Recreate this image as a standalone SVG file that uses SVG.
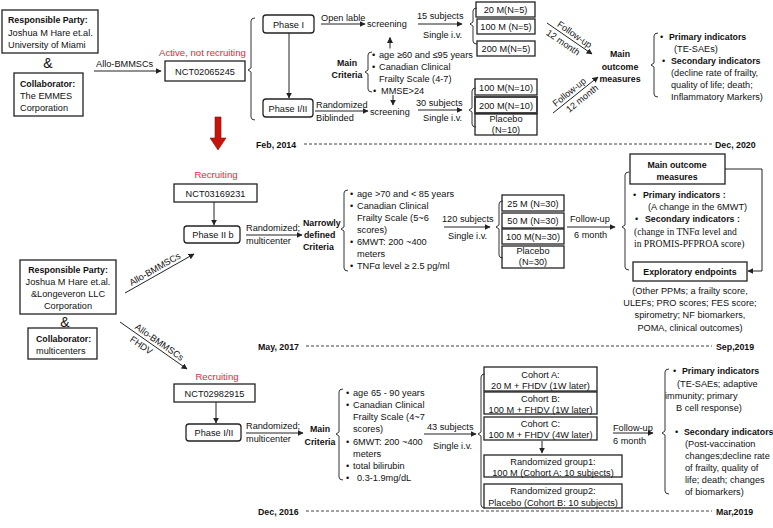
<svg xmlns="http://www.w3.org/2000/svg" width="773" height="528" viewBox="0 0 773 528">
<defs>
<marker id="ah" viewBox="0 0 10 10" refX="9" refY="5" markerWidth="6" markerHeight="6" markerUnits="userSpaceOnUse" orient="auto"><path d="M0,0 L10,5 L0,10 Z" fill="#222"/></marker>
<style>
text{font-family:"Liberation Sans",Arial,sans-serif;font-size:9.2px;fill:#111}
.b{font-weight:bold;font-size:8.8px}
.c{text-anchor:middle}
.r{fill:#e0283f;font-size:9.6px}
.s{font-family:"Liberation Serif","Times New Roman",serif;font-size:9.6px}
.amp{font-size:14px}
.box{fill:#fff;stroke:#222;stroke-width:1.3}
.ln{stroke:#222;stroke-width:1;fill:none}
.ar{stroke:#222;stroke-width:1;fill:none;marker-end:url(#ah)}
.br{stroke:#333;stroke-width:1;fill:none}
.dash{stroke:#444;stroke-width:1;stroke-dasharray:3 2}
</style>
</defs>
<rect width="773" height="528" fill="#fff"/>

<!-- ===== Section 1 ===== -->
<g id="resp1"><rect class="box" x="2" y="10" width="96" height="43"/>
<text class="b" x="8" y="23">Responsible Party:</text>
<text x="8" y="35.5">Joshua M Hare et.al.</text>
<text x="8" y="47.5">University of Miami</text></g>
<g id="amp1"><text class="amp c" x="48" y="68">&amp;</text></g>
<g id="collab1"><rect class="box" x="14" y="73" width="69" height="43"/>
<text class="b" x="20" y="86.5">Collaborator:</text>
<text x="20" y="98.5">The EMMES</text>
<text x="20" y="110.5">Corporation</text></g>
<g id="status1"><text class="r" x="159" y="55.5">Active, not recruiting</text></g>
<g id="nct1"><rect class="box" x="165" y="61" width="80" height="20"/>
<text class="c" x="205" y="74.5">NCT02065245</text></g>
<g id="phase1"><rect class="box" x="263" y="15" width="51" height="18" rx="3"/>
<text class="c" x="288.5" y="27.5">Phase I</text></g>
<g id="phase12a"><rect class="box" x="263" y="99" width="50" height="18" rx="3"/>
<text class="c" x="288" y="111.5">Phase I/II</text></g>
<g id="scr1"><text x="367" y="27">screening</text></g>
<g id="scr2"><text x="370" y="115">screening</text></g>
<g id="crit1">
<text class="b c" x="347" y="66">Main</text>
<text class="b c" x="347" y="78">Criteria</text>
<text x="372" y="57.5">•</text><text x="379" y="57.5">age ≥60 and ≤95 years</text>
<text x="372" y="70">•</text><text x="379" y="70">Canadian Clinical</text>
<text x="379" y="82">Frailty Scale (4-7)</text>
<text x="373" y="93.5">•</text><text x="381" y="93.5">MMSE&gt;24</text>
</g>
<g id="doses1">
<rect class="box" x="476" y="2" width="59" height="15"/><text class="c" x="505.5" y="12.8">20 M(N=5)</text>
<rect class="box" x="477" y="19" width="58" height="15"/><text class="c" x="506" y="30">100 M (N=5)</text>
<rect class="box" x="477" y="41" width="58" height="15"/><text class="c" x="506" y="51.8">200 M(N=5)</text>
</g>
<g id="doses2">
<rect class="box" x="475" y="79" width="62" height="16"/><text class="c" x="506" y="90.5">100 M(N=10)</text>
<rect class="box" x="475" y="97" width="62" height="16" style="stroke-width:2;stroke:#444"/><text class="c" x="506" y="108.5">200 M(N=10)</text>
<rect class="box" x="475" y="114" width="62" height="21"/><text class="c" x="506" y="122">Placebo</text><text class="c" x="506" y="132.5">(N=10)</text>
</g>
<g id="outcome1">
<text class="b c" x="620" y="57">Main</text>
<text class="b c" x="620" y="69.5">outcome</text>
<text class="b c" x="620" y="81.5">measures</text>
</g>
<g id="ind1">
<text x="660" y="39.5">•</text><text class="b" x="669" y="39.5">Primary indicators</text>
<text x="674" y="51.5">(TE-SAEs)</text>
<text x="662" y="64">•</text><text class="b" x="671" y="64">Secondary indicators</text>
<text x="671" y="75.5">(decline rate of frailty,</text>
<text x="671" y="87.5">quality of life; death;</text>
<text x="671" y="99.5">Inflammatory  Markers)</text>
</g>
<g id="timeline1">
<text class="b" x="256" y="147.5">Feb, 2014</text>
<line class="dash" x1="304" y1="144" x2="712" y2="144"/>
<text class="b" x="715" y="147.5">Dec, 2020</text>
</g>

<!-- ===== Section 2 ===== -->
<g id="status2"><text class="r c" x="216" y="177.5">Recruiting</text></g>
<g id="nct2"><rect class="box" x="174" y="184" width="83" height="18"/>
<text class="c" x="215.5" y="196.5">NCT03169231</text></g>
<g id="phase2b"><rect class="box" x="184" y="226" width="56" height="17" rx="3"/>
<text class="c" x="213" y="238">Phase II b</text></g>
<g id="crit2">
<text class="b" x="303" y="226">Narrowly</text>
<text class="b" x="304" y="237.5">defined</text>
<text class="b" x="303" y="249.5">Criteria</text>
<text x="350" y="196.5">•</text><text x="357" y="196.5">age &gt;70 and &lt; 85 years</text>
<text x="350" y="208.5">•</text><text x="357" y="208.5">Canadian Clinical</text>
<text x="357" y="220.5">Frailty Scale (5~6</text>
<text x="357" y="232.5">scores)</text>
<text x="350" y="244.5">•</text><text x="357" y="244.5">6MWT: 200 ~400</text>
<text x="357" y="256.5">meters</text>
<text x="350" y="268.5">•</text><text x="357" y="268.5">TNFα level ≥ 2.5 pg/ml</text>
</g>
<g id="doses3">
<rect class="box" x="502" y="195" width="62" height="16"/><text class="c" x="533" y="206.5">25 M (N=30)</text>
<rect class="box" x="502" y="213" width="62" height="15"/><text class="c" x="533" y="224">50 M (N=30)</text>
<rect class="box" x="502" y="229" width="62" height="15"/><text class="c" x="533" y="240">100 M(N=30)</text>
<rect class="box" x="502" y="246" width="62" height="22"/><text class="c" x="533" y="254">Placebo</text><text class="c" x="533" y="265">(N=30)</text>
</g>
<g id="outcome2"><rect class="box" x="630" y="154" width="95" height="30"/>
<text class="b c" x="677" y="167.5">Main outcome</text>
<text class="b c" x="677" y="180">measures</text></g>
<g id="ind2">
<text x="633" y="197.5">•</text><text class="b" x="643" y="197.5">Primary indicators :</text>
<text x="648" y="209.5">(A change in the 6MWT)</text>
<text x="635" y="222">•</text><text class="b" x="645" y="222">Secondary indicators :</text>
<text class="s" x="634" y="235">(change  in  TNFα level  and</text>
<text class="s" x="634" y="246.5">in PROMIS-PFPROA score)</text>
</g>
<g id="explore"><rect class="box" x="633" y="262" width="114" height="19"/>
<text class="b c" x="690" y="274.5">Exploratory endpoints</text>
<text class="c" x="690" y="293.5">(Other PPMs; a frailty score,</text>
<text class="c" x="690" y="305.5">ULEFs; PRO scores; FES score;</text>
<text class="c" x="690" y="317.5">spirometry;  NF biomarkers,</text>
<text class="c" x="690" y="330.5">POMA, clinical outcomes)</text></g>
<g id="resp2"><rect class="box" x="20" y="260" width="96" height="54"/>
<text class="b c" x="68" y="272.5">Responsible Party:</text>
<text class="c" x="68" y="284.5">Joshua M Hare et.al.</text>
<text class="c" x="68" y="296.5">&amp;Longeveron LLC</text>
<text class="c" x="68" y="308.5">Corporation</text></g>
<g id="amp2"><text class="amp c" x="65" y="327">&amp;</text></g>
<g id="collab2"><rect class="box" x="28" y="328" width="69" height="31"/>
<text class="b" x="36" y="341.5">Collaborator:</text>
<text x="36" y="353.5">multicenters</text></g>
<g id="timeline2">
<text class="b" x="258" y="349.5">May, 2017</text>
<line class="dash" x1="306" y1="346" x2="712" y2="346"/>
<text class="b" x="716" y="349.5">Sep,2019</text>
</g>

<!-- ===== Section 3 ===== -->
<g id="status3"><text class="r c" x="217" y="379.5">Recruiting</text></g>
<g id="nct3"><rect class="box" x="174" y="384" width="81" height="18"/>
<text class="c" x="214.5" y="396.5">NCT02982915</text></g>
<g id="phase12b"><rect class="box" x="186" y="424" width="55" height="17" rx="3"/>
<text class="c" x="214" y="436">Phase I/II</text></g>
<g id="crit3">
<text class="b c" x="320" y="431.5">Main</text>
<text class="b c" x="320" y="444.5">Criteria</text>
<text x="346" y="396">•</text><text x="353" y="396">age 65 - 90 years</text>
<text x="346" y="408">•</text><text x="353" y="408">Canadian Clinical</text>
<text x="353" y="420">Frailty Scale (4~7</text>
<text x="353" y="432">scores)</text>
<text x="346" y="444.5">•</text><text x="353" y="444.5">6MWT: 200 ~400</text>
<text x="353" y="456.5">meters</text>
<text x="346" y="468.5">•</text><text x="353" y="468.5">total bilirubin</text>
<text x="346" y="480.5">•</text><text x="357" y="480.5">0.3-1.9mg/dL</text>
</g>
<g id="cohorts">
<rect class="box" x="484" y="367" width="113" height="24"/><text class="c" x="540.5" y="377.5">Cohort A:</text><text class="c" x="540.5" y="389">20 M + FHDV (1W later)</text>
<rect class="box" x="484" y="392" width="113" height="22"/><text class="c" x="540.5" y="401.5">Cohort B:</text><text class="c" x="540.5" y="412.5">100 M + FHDV (1W later)</text>
<rect class="box" x="484" y="417" width="113" height="23"/><text class="c" x="540.5" y="426.5">Cohort C:</text><text class="c" x="540.5" y="437.5">100 M + FHDV (4W later)</text>
</g>
<g id="groups">
<rect class="box" x="484" y="455" width="138" height="22"/><text class="c" x="553" y="464.5">Randomized group1:</text><text class="c" x="553" y="475.5">100 M (Cohort A: 10 subjects)</text>
<rect class="box" x="484" y="484" width="138" height="24"/><text class="c" x="553" y="493.5">Randomized group2:</text><text class="c" x="553" y="505.5">Placebo (Cohort B: 10 subjects)</text>
</g>
<g id="ind3">
<text x="673" y="374">•</text><text class="b" x="682" y="374">Primary indicators</text>
<text x="677" y="386.5">(TE-SAEs; adaptive</text>
<text x="665" y="398.5">immunity;   primary</text>
<text x="676" y="410.5">B cell response)</text>
<text x="675" y="434.5">•</text><text class="b" x="684" y="434.5">Secondary indicators</text>
<text x="685" y="446.5">(Post-vaccination</text>
<text x="685" y="458.5">changes;decline rate</text>
<text x="685" y="470.5">of frailty, quality of</text>
<text x="685" y="482.5">life; death;  changes</text>
<text x="685" y="494.5">of biomarkers)</text>
</g>
<g id="timeline3">
<text class="b" x="258" y="514.5">Dec, 2016</text>
<line class="dash" x1="306" y1="511" x2="712" y2="511"/>
<text class="b" x="716" y="514.5">Mar,2019</text>
</g>

<!-- ===== Connectors ===== -->
<g id="connectors">
<!-- section 1 -->
<line class="ar" x1="94" y1="71" x2="161" y2="71"/>
<text x="96" y="67">Allo-BMMSCs</text>
<path class="br" d="M255,18 Q251,18 251,21 V68 L248,70 L251,72 V117 Q251,120 255,120"/>
<path d="M215,117 H221 V138 H226 L218,150 L210,138 H215 Z" fill="#c4150c" stroke="#8a0d06" stroke-width="0.6"/>
<line class="ar" x1="321" y1="24" x2="365" y2="24"/>
<text x="321" y="21">Open lable</text>
<line class="ar" x1="289" y1="33" x2="289" y2="98"/>
<line class="ar" x1="315" y1="111" x2="368" y2="111"/>
<text x="316" y="108">Randomized</text>
<text x="316" y="121">Biblinded</text>
<line class="ar" x1="390" y1="48.5" x2="390" y2="37.5"/>
<line class="ar" x1="393" y1="95" x2="393" y2="105"/>
<path class="br" d="M372,52 Q368,52 368,55 V70 L365,72 L368,74 V89 Q368,92 372,92"/>
<line class="ar" x1="418" y1="24" x2="462" y2="24"/>
<text x="417" y="18.5">15 subjects</text>
<text x="423" y="37.5">Single  i.v.</text>
<path class="br" d="M477,8 Q473,8 473,11 V22 L470,24 L473,26 V41 Q473,44 477,44"/>
<line class="ar" x1="418" y1="110" x2="462" y2="110"/>
<text x="416" y="105.5">30 subjects</text>
<text x="423" y="121">Single i.v.</text>
<path class="br" d="M476,88 Q472,88 472,91 V108 L469,110 L472,112 V124 Q472,127 476,127"/>
<line class="ar" x1="547" y1="23" x2="592" y2="54"/>
<g transform="translate(569.5,38.5) rotate(34.6)"><text class="c" x="2" y="-3">Follow-up</text><text class="c" x="-3" y="10">12 month</text></g>
<line class="ar" x1="553" y1="113" x2="598" y2="77"/>
<g transform="translate(575.5,95) rotate(-38.7)"><text class="c" x="-3" y="-3">Follow-up</text><text class="c" x="3" y="10">12 month</text></g>
<path class="br" d="M658,33 Q654,33 654,36 V63 L651,65 L654,67 V94 Q654,97 658,97"/>
<!-- section 2 -->
<line class="ar" x1="214" y1="202" x2="214" y2="225"/>
<line class="ar" x1="246" y1="235" x2="302" y2="235"/>
<text x="246" y="230.5">Randomized;</text>
<text x="246" y="244">multicenter</text>
<path class="br" d="M348,190 Q344,190 344,193 V227 L341,229 L344,231 V268 Q344,271 348,271"/>
<line class="ar" x1="444" y1="227" x2="490" y2="227"/>
<text x="442" y="221.5">120 subjects</text>
<text x="448" y="238.5">Single i.v.</text>
<path class="br" d="M503,201 Q499,201 499,204 V225 L496,227 L499,229 V255 Q499,258 503,258"/>
<line class="ar" x1="567" y1="227" x2="615" y2="227"/>
<text x="570" y="221.5">Follow-up</text>
<text x="574" y="238">6 month</text>
<path class="br" d="M629,172 Q625,172 625,175 V225 L622,227 L625,229 V267 Q625,270 629,270"/>
<path class="ar" d="M725,169 H762 V271 H748"/>
<line class="ar" x1="125" y1="293" x2="194" y2="254"/>
<g transform="translate(159.5,273.5) rotate(-29.5)"><text class="c" x="-2" y="-3">Allo-BMMSCs</text></g>
<line class="ar" x1="120" y1="322" x2="187" y2="369"/>
<g transform="translate(153.5,345.5) rotate(35)"><text class="c" x="3" y="-3">Allo-BMMSCs</text><text class="c" x="-10" y="10">FHDV</text></g>
<!-- section 3 -->
<line class="ar" x1="216" y1="402" x2="216" y2="423"/>
<line class="ar" x1="246" y1="433" x2="303" y2="433"/>
<text x="246" y="428.5">Randomized;</text>
<text x="246" y="441.5">multicenter</text>
<path class="br" d="M343,389 Q339,389 339,392 V432 L336,434 L339,436 V477 Q339,480 343,480"/>
<line class="ar" x1="424" y1="434" x2="476" y2="434"/>
<text x="427" y="429.5">43 subjects</text>
<text x="433" y="448.5">Single i.v.</text>
<path class="br" d="M485,374 Q481,374 481,377 V432 L478,434 L481,436 V505 Q481,508 485,508"/>
<line class="ar" x1="542" y1="441" x2="542" y2="453"/>
<line class="ar" x1="613" y1="433" x2="653" y2="433"/>
<text x="613" y="430.5">Follow-up</text>
<text x="613" y="443.5">6 month</text>
<path class="br" d="M669,369 Q665,369 665,372 V431 L662,433 L665,435 V491 Q665,494 669,494"/>
</g>
</svg>
